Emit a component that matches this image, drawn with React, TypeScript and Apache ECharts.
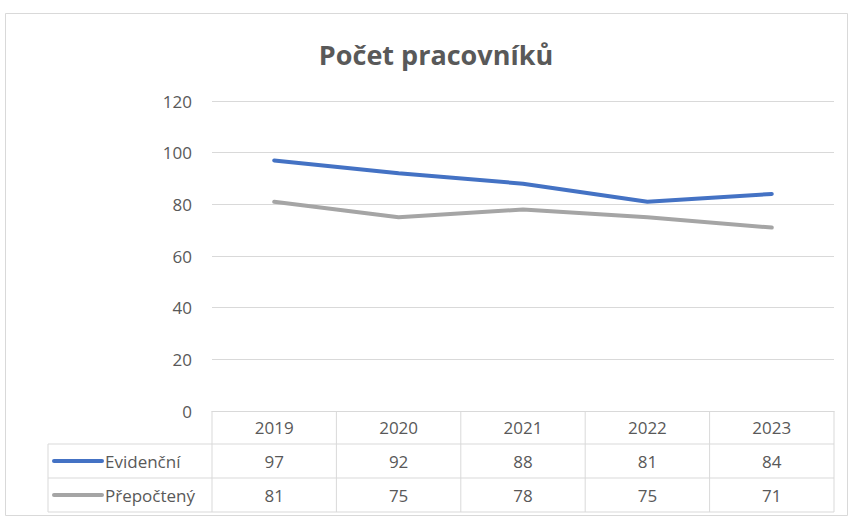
import React, { useEffect, useRef } from "react";
import * as echarts from "echarts";

const categories = ["2019", "2020", "2021", "2022", "2023"];
const evidencni = [97, 92, 88, 81, 84];
const prepocteny = [81, 75, 78, 75, 71];
const seriesNames = ["Evidenční", "Přepočtený"];
const seriesColors = ["#4472C4", "#A5A5A5"];
const yTicks = { min: 0, max: 120, interval: 20 };

const W = 849;
const H = 517;
const GRID = { left: 212, right: 15, top: 101, bottom: 106 };
const ROW_H = [33, 34, 34];
const TABLE_LEFT = 48;
const LINE_C = "#D9D9D9";
const TEXT_C = "#595959";
const FONT = "'Open Sans', 'Noto Sans', sans-serif";
const FS = 17;

export default function App() {
  const ref = useRef<HTMLDivElement>(null);
  useEffect(() => {
    document.body.style.margin = "0";
    const chart = echarts.init(ref.current!, null, { renderer: "svg" });
    const option: any = {
      animation: false,
      backgroundColor: "#fff",
      title: {
        text: "Počet pracovníků",
        left: 431,
        top: 36,
        textAlign: "center",
        textStyle: { fontFamily: FONT, fontSize: 27, fontWeight: "bold", color: TEXT_C },
      },
      grid: { ...GRID },
      xAxis: {
        type: "category",
        data: categories,
        boundaryGap: true,
        axisLine: { show: true, lineStyle: { color: LINE_C, width: 1 } },
        axisTick: { show: false },
        axisLabel: { show: false },
      },
      yAxis: {
        type: "value",
        min: yTicks.min,
        max: yTicks.max,
        interval: yTicks.interval,
        axisLine: { show: false },
        axisTick: { show: false },
        axisLabel: { fontFamily: FONT, fontSize: FS, color: TEXT_C, margin: 20 },
        splitLine: { lineStyle: { color: LINE_C, width: 1 } },
      },
      series: [
        {
          name: seriesNames[0],
          type: "line",
          data: evidencni,
          symbol: "none",
          lineStyle: { color: seriesColors[0], width: 4, cap: "round" },
        },
        {
          name: seriesNames[1],
          type: "line",
          data: prepocteny,
          symbol: "none",
          lineStyle: { color: seriesColors[1], width: 4, cap: "round" },
        },
      ],
    };
    chart.setOption(option);

    const n = categories.length;
    const x0 = GRID.left;
    const x1 = W - GRID.right;
    const colW = (x1 - x0) / n;
    const yTop = H - GRID.bottom;
    const r1 = yTop + ROW_H[0];
    const r2 = r1 + ROW_H[1];
    const r3 = r2 + ROW_H[2];
    const g: any[] = [];
    const ls = { stroke: LINE_C, lineWidth: 1 };
    g.push({ type: "rect", shape: { x: 5.5, y: 13.5, width: W - 7, height: H - 15 }, style: { fill: "none", stroke: "#D9D9D9", lineWidth: 1 }, silent: true });
    g.push({ type: "line", shape: { x1: TABLE_LEFT, y1: r1, x2: x1, y2: r1 }, style: ls });
    g.push({ type: "line", shape: { x1: TABLE_LEFT, y1: r2, x2: x1, y2: r2 }, style: ls });
    g.push({ type: "line", shape: { x1: TABLE_LEFT, y1: r3, x2: x1, y2: r3 }, style: ls });
    g.push({ type: "line", shape: { x1: TABLE_LEFT, y1: r1, x2: TABLE_LEFT, y2: r3 }, style: ls });
    for (let i = 0; i <= n; i++) {
      const x = x0 + i * colW;
      g.push({ type: "line", shape: { x1: x, y1: yTop, x2: x, y2: r3 }, style: ls });
    }
    const rowsData = [evidencni, prepocteny];
    const rowMid = [(yTop + r1) / 2, (r1 + r2) / 2, (r2 + r3) / 2];
    categories.forEach((c, i) => {
      const cx = x0 + (i + 0.5) * colW;
      g.push({ type: "text", x: cx, y: rowMid[0], style: { text: c, fill: TEXT_C, font: `${FS}px ${FONT}`, align: "center", verticalAlign: "middle" } });
      rowsData.forEach((arr, k) => {
        g.push({ type: "text", x: cx, y: rowMid[k + 1], style: { text: String(arr[i]), fill: TEXT_C, font: `${FS}px ${FONT}`, align: "center", verticalAlign: "middle" } });
      });
    });
    seriesNames.forEach((name, k) => {
      const y = rowMid[k + 1];
      g.push({ type: "line", shape: { x1: 54, y1: y, x2: 102, y2: y }, style: { stroke: seriesColors[k], lineWidth: 4, lineCap: "round" } });
      g.push({ type: "text", x: 105, y, style: { text: name, fill: TEXT_C, font: `${FS}px ${FONT}`, align: "left", verticalAlign: "middle" } });
    });
    chart.setOption({ graphic: { elements: g } });
    return () => chart.dispose();
  }, []);
  return <div ref={ref} style={{ width: W, height: H }} />;
}
